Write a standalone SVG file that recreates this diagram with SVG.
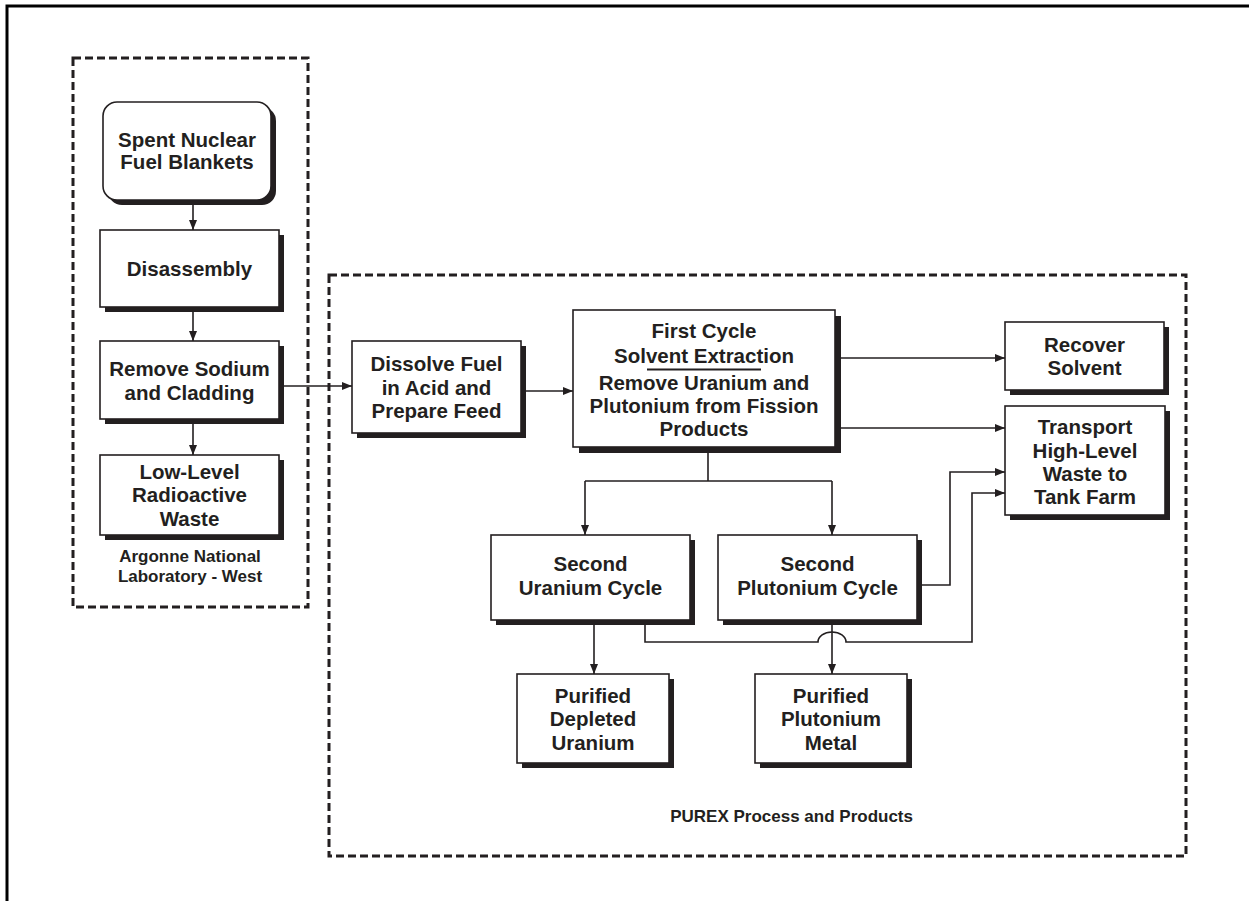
<svg xmlns="http://www.w3.org/2000/svg" width="1249" height="901" viewBox="0 0 1249 901">
  <style>
    .box { fill: #ffffff; stroke: #231f20; stroke-width: 1.6; }
    .shadow { fill: #231f20; }
    .txt { font-family: "Liberation Sans", Arial, sans-serif; font-weight: bold; font-size: 20.5px; fill: #231f20; text-anchor: middle; }
    .lbl { font-family: "Liberation Sans", Arial, sans-serif; font-weight: bold; font-size: 17px; fill: #231f20; text-anchor: middle; }
    .area { fill: none; stroke: #231f20; stroke-width: 3; stroke-dasharray: 8 4; }
    .wire { fill: none; stroke: #231f20; stroke-width: 1.6; }
    .arrow { marker-end: url(#head); }
  </style>
  <defs>
    <marker id="head" markerWidth="10" markerHeight="8" refX="10" refY="4" orient="auto" markerUnits="userSpaceOnUse">
      <path d="M0,0 L10,4 L0,8 z" fill="#231f20"/>
    </marker>
  </defs>
  <rect x="0" y="0" width="1249" height="901" fill="#ffffff"/>

  <!-- page frame -->
  <path d="M7,901 V6 H1249" fill="none" stroke="#000000" stroke-width="3"/>

  <!-- site areas -->
  <g id="area-anl-west">
    <rect class="area" x="73" y="58" width="235" height="549"/>
    <text class="lbl" x="190" y="562">Argonne National</text>
    <text class="lbl" x="190" y="582">Laboratory - West</text>
  </g>
  <g id="area-purex">
    <rect class="area" x="329" y="275" width="857" height="581"/>
    <text class="lbl" x="913" y="822" style="text-anchor:end">PUREX Process and Products</text>
  </g>

  <!-- connectors -->
  <g id="connectors">
    <path class="wire arrow" d="M193,205 V230"/>
    <path class="wire arrow" d="M193,312 V341"/>
    <path class="wire arrow" d="M193,424 V455"/>
    <path class="wire arrow" d="M284,386 H352"/>
    <path class="wire arrow" d="M526,391 H573"/>
    <path class="wire arrow" d="M840,358 H1005"/>
    <path class="wire arrow" d="M840,428 H1005"/>
    <path class="wire" d="M708,452 V481 M585,481 H832"/>
    <path class="wire arrow" d="M585,481 V535"/>
    <path class="wire arrow" d="M832,481 V535"/>
    <path class="wire arrow" d="M594,625 V674"/>
    <path class="wire arrow" d="M832,625 V674"/>
    <path class="wire arrow" d="M922,585 H950 V472 H1005"/>
    <path class="wire arrow" d="M645,625 V642 H818 A14,10 0 0 1 846,642 H972 V493 H1005"/>
  </g>

  <!-- nodes -->
  <g id="spent-fuel">
    <rect class="shadow" x="108" y="107" width="168" height="98" rx="14"/>
    <rect class="box" x="103" y="102" width="168" height="98" rx="14"/>
    <text class="txt" x="187" y="147">Spent Nuclear</text>
    <text class="txt" x="187" y="169">Fuel Blankets</text>
  </g>
  <g id="disassembly">
    <rect class="shadow" x="105" y="235" width="179" height="77"/>
    <rect class="box" x="100" y="230" width="179" height="77"/>
    <text class="txt" x="189.5" y="275.5">Disassembly</text>
  </g>
  <g id="remove-sodium">
    <rect class="shadow" x="105" y="346" width="179" height="78"/>
    <rect class="box" x="100" y="341" width="179" height="78"/>
    <text class="txt" x="189.5" y="376">Remove Sodium</text>
    <text class="txt" x="189.5" y="400">and Cladding</text>
  </g>
  <g id="low-level-waste">
    <rect class="shadow" x="105" y="460" width="179" height="80"/>
    <rect class="box" x="100" y="455" width="179" height="80"/>
    <text class="txt" x="189.5" y="478.5">Low-Level</text>
    <text class="txt" x="189.5" y="502">Radioactive</text>
    <text class="txt" x="189.5" y="525.5">Waste</text>
  </g>
  <g id="dissolve-fuel">
    <rect class="shadow" x="357" y="346" width="169" height="92"/>
    <rect class="box" x="352" y="341" width="169" height="92"/>
    <text class="txt" x="436.5" y="371">Dissolve Fuel</text>
    <text class="txt" x="436.5" y="395">in Acid and</text>
    <text class="txt" x="436.5" y="418">Prepare Feed</text>
  </g>
  <g id="first-cycle">
    <rect class="shadow" x="579" y="316" width="262" height="137"/>
    <rect class="box" x="573" y="310" width="262" height="137"/>
    <text class="txt" x="704" y="338">First Cycle</text>
    <text class="txt" x="704" y="363">Solvent Extraction</text>
    <line x1="647" y1="369.5" x2="761" y2="369.5" stroke="#231f20" stroke-width="2"/>
    <text class="txt" x="704" y="390">Remove Uranium and</text>
    <text class="txt" x="704" y="413">Plutonium from Fission</text>
    <text class="txt" x="704" y="436">Products</text>
  </g>
  <g id="recover-solvent">
    <rect class="shadow" x="1010" y="327" width="159" height="68"/>
    <rect class="box" x="1005" y="322" width="159" height="68"/>
    <text class="txt" x="1084.5" y="352">Recover</text>
    <text class="txt" x="1084.5" y="375">Solvent</text>
  </g>
  <g id="transport-waste">
    <rect class="shadow" x="1010" y="411" width="160" height="109"/>
    <rect class="box" x="1005" y="406" width="160" height="109"/>
    <text class="txt" x="1085" y="434">Transport</text>
    <text class="txt" x="1085" y="458">High-Level</text>
    <text class="txt" x="1085" y="481">Waste to</text>
    <text class="txt" x="1085" y="504">Tank Farm</text>
  </g>
  <g id="second-uranium">
    <rect class="shadow" x="496" y="540" width="199" height="85"/>
    <rect class="box" x="491" y="535" width="199" height="85"/>
    <text class="txt" x="590.5" y="571">Second</text>
    <text class="txt" x="590.5" y="595">Uranium Cycle</text>
  </g>
  <g id="second-plutonium">
    <rect class="shadow" x="723" y="540" width="199" height="85"/>
    <rect class="box" x="718" y="535" width="199" height="85"/>
    <text class="txt" x="817.5" y="571">Second</text>
    <text class="txt" x="817.5" y="595">Plutonium Cycle</text>
  </g>
  <g id="depleted-uranium">
    <rect class="shadow" x="522" y="679" width="152" height="89"/>
    <rect class="box" x="517" y="674" width="152" height="89"/>
    <text class="txt" x="593" y="703">Purified</text>
    <text class="txt" x="593" y="726">Depleted</text>
    <text class="txt" x="593" y="750">Uranium</text>
  </g>
  <g id="plutonium-metal">
    <rect class="shadow" x="760" y="679" width="152" height="89"/>
    <rect class="box" x="755" y="674" width="152" height="89"/>
    <text class="txt" x="831" y="703">Purified</text>
    <text class="txt" x="831" y="726">Plutonium</text>
    <text class="txt" x="831" y="750">Metal</text>
  </g>
</svg>
